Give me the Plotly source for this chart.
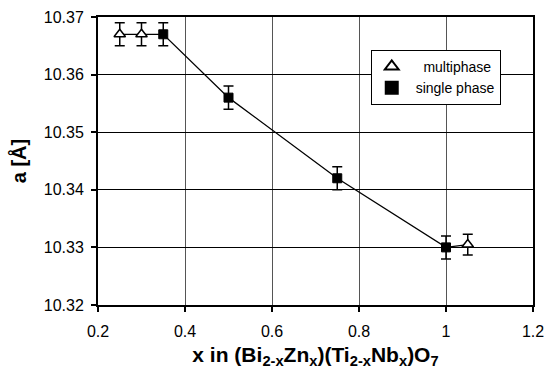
import plotly.graph_objects as go

multi_x = [0.25, 0.30, 1.05]
multi_y = [10.367, 10.367, 10.3305]
multi_err = [0.002, 0.002, 0.0018]

single_x = [0.35, 0.50, 0.75, 1.00]
single_y = [10.367, 10.356, 10.342, 10.330]
single_err = [0.002, 0.002, 0.002, 0.002]

x_ticks = [0.2, 0.4, 0.6, 0.8, 1.0, 1.2]
x_tick_labels = ["0.2", "0.4", "0.6", "0.8", "1", "1.2"]
y_ticks = [10.32, 10.33, 10.34, 10.35, 10.36, 10.37]
y_tick_labels = ["10.32", "10.33", "10.34", "10.35", "10.36", "10.37"]

# connecting line through all points sorted by x
pts = sorted(zip(multi_x + single_x, multi_y + single_y))
line_x = [p[0] for p in pts]
line_y = [p[1] for p in pts]

FONT = "Liberation Sans, Arial, sans-serif"

fig = go.Figure()
fig.add_trace(go.Scatter(x=line_x, y=line_y, mode="lines",
                         line=dict(color="black", width=1.3),
                         showlegend=False, hoverinfo="skip"))
fig.add_trace(go.Scatter(
    x=multi_x, y=multi_y, mode="markers", name="&nbsp;&nbsp;&nbsp;multiphase",
    marker=dict(symbol="triangle-up", size=10, color="white",
                line=dict(color="black", width=1.5)),
    error_y=dict(type="data", array=multi_err, color="black", thickness=1.5, width=5)))
fig.add_trace(go.Scatter(
    x=single_x, y=single_y, mode="markers", name="&nbsp;single phase",
    marker=dict(symbol="square", size=9, color="black",
                line=dict(color="black", width=1)),
    error_y=dict(type="data", array=single_err, color="black", thickness=1.5, width=5)))

fig.update_layout(
    width=546, height=377,
    margin=dict(l=98, r=13, t=17, b=72, autoexpand=False),
    paper_bgcolor="white", plot_bgcolor="white",
    font=dict(family=FONT, size=16, color="black"),
    showlegend=True,
    legend=dict(x=0.627, y=0.886, xanchor="left", yanchor="top",
                bgcolor="white", bordercolor="black", borderwidth=1,
                font=dict(size=14), tracegroupgap=0, itemsizing="constant",
                itemwidth=30),
)
fig.update_xaxes(
    range=[0.2, 1.2], tickvals=x_ticks, ticktext=x_tick_labels,
    showgrid=True, gridcolor="#555555", gridwidth=1,
    showline=True, linecolor="black", linewidth=2, mirror=True,
    ticks="outside", ticklen=5, tickcolor="black", tickwidth=1.5,
    ticklabelstandoff=6,
    zeroline=False, automargin=False,
    title=dict(text="<b>x in (Bi<sub>2-x</sub>Zn<sub>x</sub>)(Ti<sub>2-x</sub>Nb<sub>x</sub>)O<sub>7</sub></b>",
               font=dict(size=21), standoff=8),
)
fig.update_yaxes(
    range=[10.32, 10.37], tickvals=y_ticks, ticktext=y_tick_labels,
    showgrid=True, gridcolor="black", gridwidth=1,
    showline=True, linecolor="black", linewidth=2, mirror=True,
    ticks="outside", ticklen=5, tickcolor="black", tickwidth=1.5,
    ticklabelstandoff=4,
    zeroline=False, automargin=False,
    title=dict(text="<b>a [Å]</b>", font=dict(size=20), standoff=12),
)

fig.write_html("out.html")
